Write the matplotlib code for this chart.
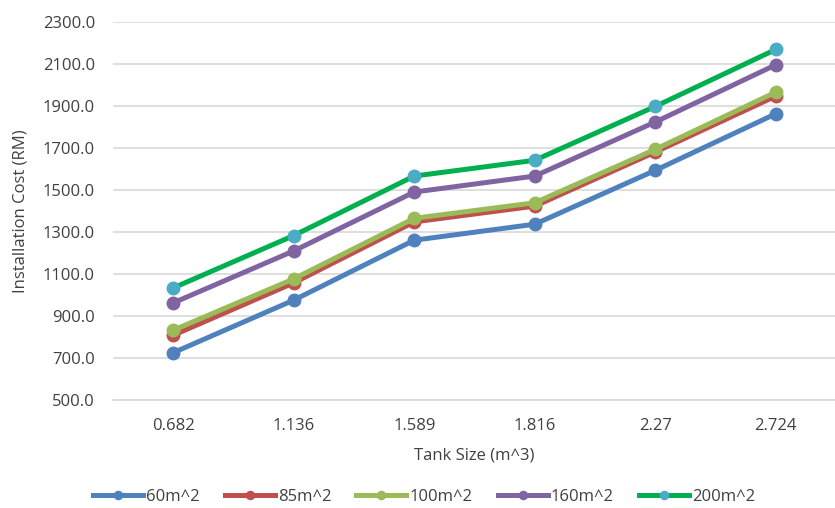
import matplotlib
matplotlib.use("Agg")
import matplotlib.pyplot as plt

categories = ["0.682", "1.136", "1.589", "1.816", "2.27", "2.724"]
s60 = [725, 975, 1260, 1336, 1592, 1861]
s85 = [808, 1057, 1347, 1422, 1679, 1945]
s100 = [832, 1076, 1364, 1438, 1692, 1964]
s160 = [962, 1209, 1489, 1565, 1822, 2094]
s200 = [1033, 1282, 1565, 1640, 1896, 2167]
labels = ["60m^2", "85m^2", "100m^2", "160m^2", "200m^2"]
yticks = [500, 700, 900, 1100, 1300, 1500, 1700, 1900, 2100, 2300]

plt.rcParams['font.family'] = ['Open Sans', 'DejaVu Sans']

fig = plt.figure(figsize=(8.35, 5.08), dpi=100)
ax = fig.add_axes([113/835, 1 - 400/508, (836 - 113)/835, (400 - 21.5)/508])

series = [s60, s85, s100, s160, s200]
line_colors = ["#4F81BD", "#C0504D", "#9BBB59", "#8064A2", "#00B050"]
marker_colors = ["#4F81BD", "#C0504D", "#9BBB59", "#8064A2", "#4BACC6"]
x = list(range(len(categories)))
for vals, lc, mc, lab in zip(series, line_colors, marker_colors, labels):
    ax.plot(x, vals, color=lc, lw=3.6, marker='o', markersize=9,
            markerfacecolor=mc, markeredgecolor=mc, label=lab, zorder=3)

ax.set_xlim(-0.5, len(categories) - 0.5)
ax.set_ylim(500, 2300)
ax.set_yticks(yticks)
ax.set_yticklabels([f"{v:.1f}" for v in yticks])
ax.set_xticks(x)
ax.set_xticklabels(categories)
ax.tick_params(axis='both', length=0, labelsize=12, colors='#404040')
ax.tick_params(axis='x', pad=13)
ax.tick_params(axis='y', pad=13)
ax.grid(axis='y', color='#D9D9D9', lw=1.2)
ax.set_axisbelow(True)
for s in ['top', 'right', 'left']:
    ax.spines[s].set_visible(False)
ax.spines['bottom'].set_color('#D9D9D9')
ax.spines['bottom'].set_linewidth(1.2)

ax.set_xlabel("Tank Size (m^3)", fontsize=12, color='#404040', labelpad=10)
ax.set_ylabel("Installation Cost (RM)", fontsize=12, color='#404040', labelpad=10)

leg = fig.legend(loc='center', bbox_to_anchor=(424/835, 1 - 497/508), ncol=5,
                 frameon=False, fontsize=12, handlelength=3.0, columnspacing=1.5,
                 handletextpad=0.2, markerscale=0.65)
for t in leg.get_texts():
    t.set_color('#404040')

fig.savefig("out.png", dpi=100, facecolor='white')
